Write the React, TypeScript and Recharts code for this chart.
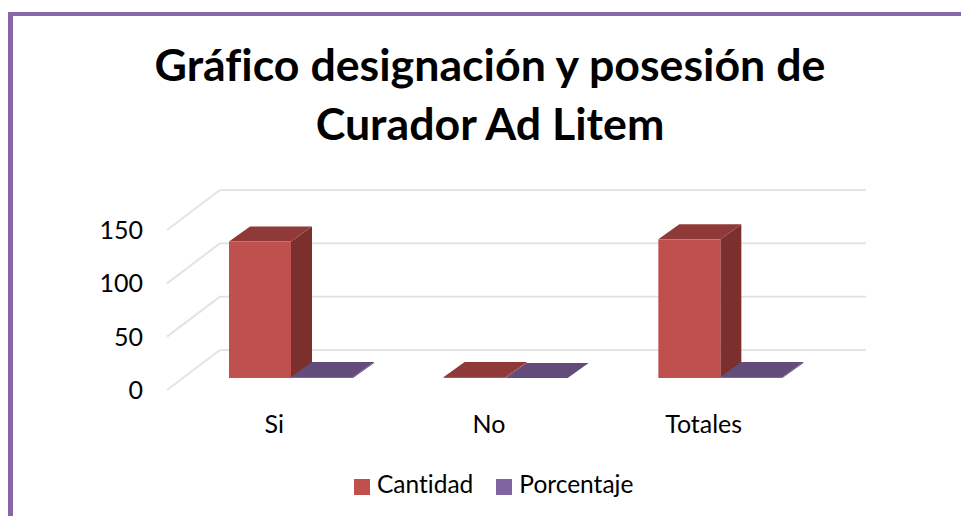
import React from "react"
import { BarChart, Bar, XAxis, YAxis, CartesianGrid, Legend } from "recharts"

const categories = ["Si", "No", "Totales"]
const cantidad = [128, 1, 130]
const porcentaje = [0.98, 0.02, 1]
const yTicks = [0, 50, 100, 150]

const data = categories.map((name, i) => ({ name, Cantidad: cantidad[i], Porcentaje: porcentaje[i] }))

const FONT = "Lato, sans-serif"

// back wall of the fake 3D box, relative to the front plane
const WALL_DX = 53
const WALL_DY = -40
// bars stand a little way into the box
const BAR_SHIFT_X = 17
const BAR_SHIFT_Y = -12
const DEPTH_X = 21
const DEPTH_Y = -15

const GridLine = (props: any) => {
    const { x1, y1, x2, y2 } = props
    return (
        <g stroke="#e4e4e4" strokeWidth={2} fill="none">
            <line x1={x1} y1={y1} x2={x1 + WALL_DX} y2={y1 + WALL_DY} />
            <line x1={x1 + WALL_DX} y1={y1 + WALL_DY} x2={x2 + WALL_DX + 2} y2={y2 + WALL_DY} />
        </g>
    )
}

const box = (front: string, top: string, side: string) => (props: any) => {
    const x = props.x + BAR_SHIFT_X
    const y = props.y + BAR_SHIFT_Y
    const w = props.width
    const h = props.height
    const r = x + w
    const b = y + h
    return (
        <g>
            <polygon points={`${r},${y} ${r + DEPTH_X},${y + DEPTH_Y} ${r + DEPTH_X},${b + DEPTH_Y} ${r},${b}`} fill={side} />
            <polygon points={`${x},${y} ${x + DEPTH_X},${y + DEPTH_Y} ${r + DEPTH_X},${y + DEPTH_Y} ${r},${y}`} fill={top} />
            <rect x={x} y={y} width={w} height={h} fill={front} />
        </g>
    )
}

export default function App() {
    return (
        <div style={{ position: "absolute", left: 0, top: 0, width: 961, height: 516, overflow: "hidden", background: "#fff" }}>
            <div style={{ position: "absolute", left: 8, top: 12, width: 953, height: 4, background: "#8767a8" }} />
            <div style={{ position: "absolute", left: 8, top: 12, width: 5, height: 504, background: "#8767a8" }} />
            <div
                style={{
                    position: "absolute",
                    left: 90,
                    top: 35,
                    width: 800,
                    textAlign: "center",
                    fontFamily: FONT,
                    fontWeight: 700,
                    fontSize: 44.7,
                    lineHeight: "59px",
                    fontVariantLigatures: "none",
                    color: "#000",
                }}
            >
                Gráfico designación y posesión de
                <br />
                Curador Ad Litem
            </div>
            <div style={{ position: "absolute", left: 0, top: 0 }}>
                <BarChart
                    width={961}
                    height={516}
                    data={data}
                    margin={{ top: 230, left: 107, right: 150, bottom: 37 }}
                    barSize={62}
                    barGap={0}
                >
                    <CartesianGrid vertical={false} horizontal={GridLine as any} />
                    <XAxis
                        dataKey="name"
                        axisLine={false}
                        tickLine={false}
                        tickMargin={19}
                        height={60}
                        tick={{ fill: "#000", fontFamily: FONT, fontSize: 25 }}
                    />
                    <YAxis
                        width={60}
                        domain={[0, 150]}
                        ticks={yTicks}
                        axisLine={false}
                        tickLine={false}
                        tickMargin={18}
                        tick={{ fill: "#000", fontFamily: FONT, fontSize: 25 }}
                    />
                    <Legend
                        iconType="square"
                        iconSize={16}
                        verticalAlign="bottom"
                        align="left"
                        wrapperStyle={{ fontFamily: FONT, fontSize: 24.5, fontVariantLigatures: "none", bottom: 18, left: 354, width: 320 }}
                        formatter={(value: string) => <span style={{ color: "#000", marginLeft: 3, marginRight: 13 }}>{value}</span>}
                    />
                    <Bar dataKey="Cantidad" fill="#c0504d" isAnimationActive={false} shape={box("#c0504d", "#8f3a38", "#7c302e")} />
                    <Bar dataKey="Porcentaje" fill="#8064a2" isAnimationActive={false} shape={box("#8064a2", "#634c7c", "#5a4570")} />
                </BarChart>
            </div>
        </div>
    )
}
